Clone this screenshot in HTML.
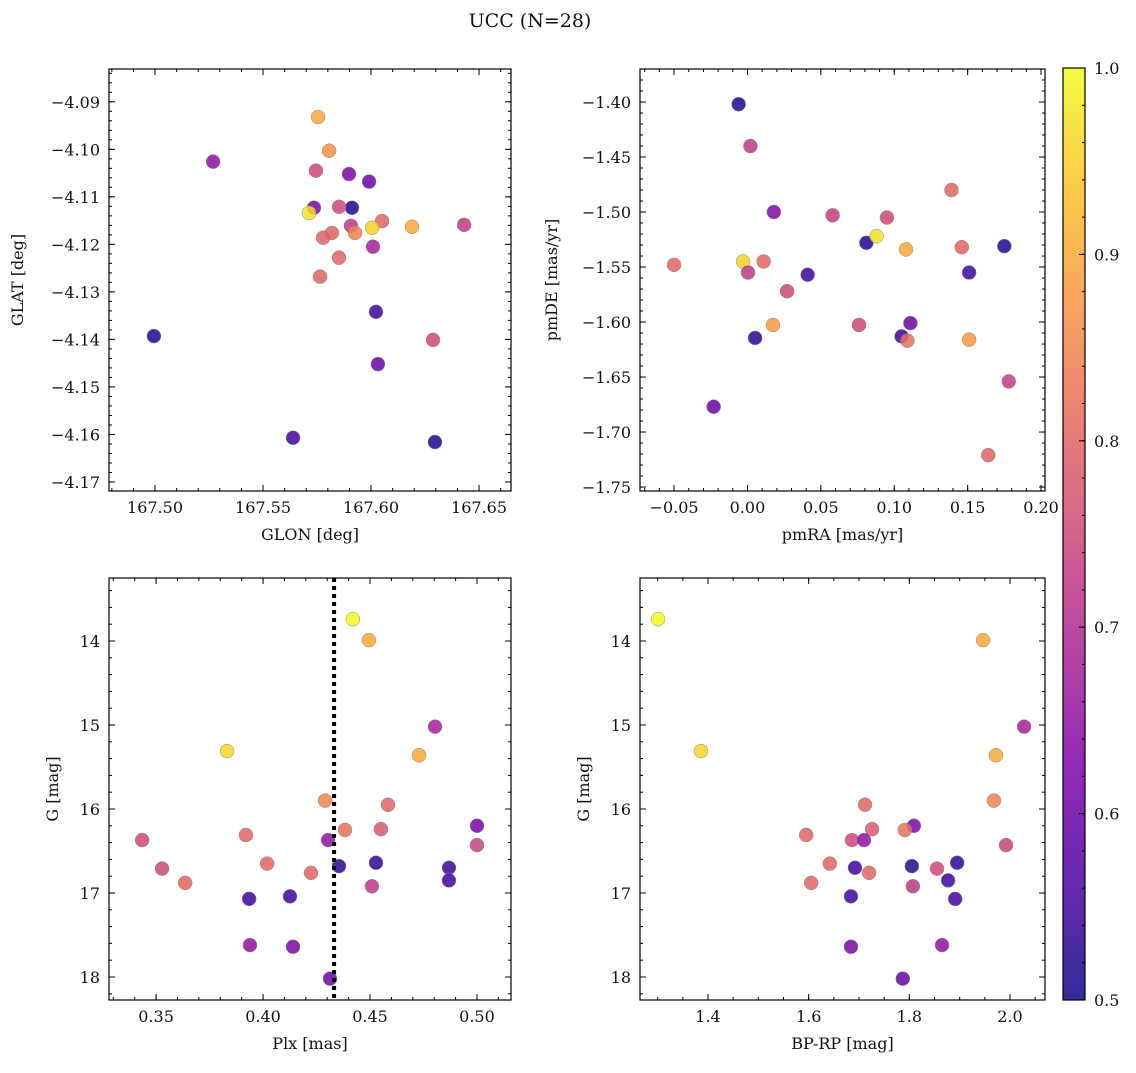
<!DOCTYPE html>
<html><head><meta charset="utf-8"><style>
body{margin:0;background:#fff;}
svg text{font-family:"DejaVu Serif","Liberation Serif",serif;fill:#111;}
</style></head><body>
<svg id="fig" width="1136" height="1068" xmlns="http://www.w3.org/2000/svg">
<text x="530" y="27" font-size="19" text-anchor="middle">UCC (N=28)</text>
</svg>
<script>
// Panel 1: GLON vs GLAT
const glon=[167.5755,167.5269,167.5806,167.5745,167.5898,167.5991,167.5736,167.5912,167.5852,167.5713,167.6051,167.5907,167.5926,167.5819,167.5778,167.6005,167.6190,167.6431,167.6009,167.5852,167.5764,167.6023,167.4995,167.6287,167.6032,167.5639,167.6296];
const glat=[-4.0932,-4.1026,-4.1003,-4.1045,-4.1052,-4.1068,-4.1123,-4.1123,-4.1121,-4.1134,-4.1151,-4.1161,-4.1176,-4.1176,-4.1186,-4.1165,-4.1163,-4.1159,-4.1205,-4.1228,-4.1268,-4.1342,-4.1393,-4.1401,-4.1452,-4.1607,-4.1616];
const prob1=[0.9,0.65,0.87,0.75,0.62,0.6,0.62,0.52,0.75,0.97,0.8,0.72,0.85,0.8,0.8,0.95,0.9,0.73,0.68,0.8,0.8,0.55,0.52,0.75,0.6,0.55,0.52];
// Panel 2: pmRA vs pmDE
const pmra=[-0.006,0.002,0.018,0.058,0.095,0.139,0.146,0.175,0.081,0.088,0.108,-0.05,-0.003,0.011,0.0004,0.041,0.151,0.027,0.0174,0.0052,0.076,0.111,0.105,0.109,0.151,0.178,-0.023,0.164];
const pmde=[-1.402,-1.440,-1.500,-1.503,-1.505,-1.480,-1.532,-1.531,-1.528,-1.522,-1.534,-1.548,-1.545,-1.545,-1.555,-1.557,-1.555,-1.572,-1.6027,-1.6145,-1.6027,-1.601,-1.613,-1.617,-1.616,-1.654,-1.677,-1.721];
const prob2=[0.52,0.72,0.63,0.73,0.75,0.8,0.8,0.52,0.52,0.97,0.9,0.8,0.95,0.8,0.72,0.55,0.55,0.75,0.88,0.53,0.75,0.6,0.55,0.82,0.88,0.73,0.6,0.8];
// Panel 3 & 4: Plx, BP-RP vs G
const plx=[0.442,0.4495,0.3832,0.4804,0.4729,0.429,0.4584,0.50,0.4383,0.4551,0.392,0.3435,0.4304,0.50,0.4019,0.4528,0.4355,0.4869,0.3528,0.4224,0.4869,0.3636,0.4509,0.4126,0.3935,0.3939,0.414,0.4313];
const gmag=[13.74,13.99,15.31,15.02,15.36,15.90,15.95,16.20,16.25,16.24,16.31,16.37,16.37,16.43,16.65,16.64,16.68,16.70,16.71,16.76,16.85,16.88,16.92,17.04,17.07,17.62,17.64,18.02];
const bprp=[1.3007,1.9464,1.386,2.028,1.972,1.968,1.712,1.809,1.791,1.726,1.595,1.686,1.710,1.992,1.642,1.895,1.805,1.692,1.855,1.720,1.877,1.605,1.807,1.684,1.891,1.865,1.684,1.787];
const prob3=[1.0,0.9,0.96,0.68,0.9,0.85,0.8,0.62,0.82,0.78,0.8,0.75,0.65,0.74,0.8,0.53,0.53,0.55,0.75,0.8,0.55,0.8,0.72,0.55,0.55,0.65,0.62,0.6];
const plxLine=0.4332;

const NS="http://www.w3.org/2000/svg";
const svg=document.getElementById('fig');
function mk(tag,attrs,parent){const e=document.createElementNS(NS,tag);for(const k in attrs)e.setAttribute(k,attrs[k]);(parent||svg).appendChild(e);return e;}
const stops=[[13,8,135],[76,2,161],[126,3,168],[169,35,149],[204,71,120],[229,107,93],[248,148,65],[253,195,40],[240,249,33]];
function plasma(t){t=Math.max(0,Math.min(1,t));const f=t*8,i=Math.min(7,Math.floor(f)),r=f-i;const a=stops[i],b=stops[i+1];return `rgb(${a.map((v,k)=>Math.round(v+(b[k]-v)*r)).join(',')})`;}
function pcol(p){return plasma((p-0.5)/0.5);}
const FS=16;
function panel(cfg){
  const {L,T,R,B,x0,x1,y0,y1,inv,xs,ys,ps,xt,yt,xmin,ymin,xfmt,yfmt,xl,yl,name}=cfg;
  const X=v=>L+(v-x0)/(x1-x0)*(R-L);
  const Y=v=>inv? T+(v-y0)/(y1-y0)*(B-T) : B-(v-y0)/(y1-y0)*(B-T);
  const g=mk('g',{});
  
  
  for(let i=0;i<xs.length;i++){
    const c=mk('circle',{cx:X(xs[i]),cy:Y(ys[i]),r:7,fill:pcol(ps[i]),'fill-opacity':0.85,stroke:'#888','stroke-width':0.5},g);
    
    
  }
  if(cfg.vline!==undefined){
    const l=mk('line',{x1:X(cfg.vline),x2:X(cfg.vline),y1:T,y2:B,stroke:'#000','stroke-width':4,'stroke-dasharray':'4,4'},g);
    
    
  }
  const fr=mk('rect',{x:L,y:T,width:R-L,height:B-T,fill:'none',stroke:'#000','stroke-width':1.2},g);
  
  
  const eps=1e-9;
  for(let v=Math.ceil((Math.min(x0,x1))/xmin-eps)*xmin;v<=Math.max(x0,x1)+eps;v+=xmin){const x=X(v);mk('line',{x1:x,x2:x,y1:B,y2:B-3,stroke:'#000'},g);mk('line',{x1:x,x2:x,y1:T,y2:T+3,stroke:'#000'},g);}
  for(let v=Math.ceil((Math.min(y0,y1))/ymin-eps)*ymin;v<=Math.max(y0,y1)+eps;v+=ymin){const y=Y(v);mk('line',{x1:L,x2:L+3,y1:y,y2:y,stroke:'#000'},g);mk('line',{x1:R,x2:R-3,y1:y,y2:y,stroke:'#000'},g);}
  xt.forEach(v=>{const x=X(v);mk('line',{x1:x,x2:x,y1:B,y2:B-6,stroke:'#000'},g);mk('line',{x1:x,x2:x,y1:T,y2:T+6,stroke:'#000'},g);
    const t=mk('text',{x:x,y:B+22,'font-size':FS,'text-anchor':'middle'},g);t.textContent=xfmt(v);
    
    });
  yt.forEach(v=>{const y=Y(v);mk('line',{x1:L,x2:L+6,y1:y,y2:y,stroke:'#000'},g);mk('line',{x1:R,x2:R-6,y1:y,y2:y,stroke:'#000'},g);
    const t=mk('text',{x:L-9,y:y+6,'font-size':FS,'text-anchor':'end'},g);t.textContent=yfmt(v);
    
    });
  const tx=mk('text',{x:(L+R)/2,y:B+49,'font-size':FS,'text-anchor':'middle'},g);tx.textContent=xl;
  
  
  const cy=(T+B)/2,cx=cfg.ylx;
  const ty=mk('text',{x:cx,y:cy,'font-size':FS,'text-anchor':'middle',transform:`rotate(-90 ${cx} ${cy})`},g);ty.textContent=yl;
  
  
}
const fx=d=>v=>{const s=Math.abs(v).toFixed(d);return (v<-1e-9?'\u2212':'')+s;};
const r=(a,b,s)=>{const o=[];for(let v=a;v<=b+1e-9;v+=s)o.push(+v.toFixed(6));return o;};
panel({name:'panel-glon-glat',L:109,T:69,R:511,B:491,x0:167.4787,x1:167.6648,y0:-4.1719,y1:-4.0831,xs:glon,ys:glat,ps:prob1,
 xt:r(167.5,167.65,0.05),yt:r(-4.17,-4.09,0.01),xmin:0.01,ymin:0.002,xfmt:fx(2),yfmt:fx(2),xl:'GLON [deg]',yl:'GLAT [deg]',ylx:23});
panel({name:'panel-pmra-pmde',L:640,T:69,R:1045,B:491,x0:-0.0732,x1:0.2027,y0:-1.7536,y1:-1.370,xs:pmra,ys:pmde,ps:prob2,
 xt:r(-0.05,0.2,0.05),yt:r(-1.75,-1.4,0.05),xmin:0.01,ymin:0.01,xfmt:fx(2),yfmt:fx(2),xl:'pmRA [mas/yr]',yl:'pmDE [mas/yr]',ylx:557});
panel({name:'panel-plx-g',L:109,T:578,R:511,B:1000,x0:0.328,x1:0.5159,y0:13.25,y1:18.274,inv:true,xs:plx,ys:gmag,ps:prob3,vline:plxLine,
 xt:r(0.35,0.5,0.05),yt:r(14,18,1),xmin:0.01,ymin:0.2,xfmt:fx(2),yfmt:v=>String(v),xl:'Plx [mas]',yl:'G [mag]',ylx:58});
panel({name:'panel-bprp-g',L:640,T:578,R:1045,B:1000,x0:1.2649,x1:2.0695,y0:13.25,y1:18.274,inv:true,xs:bprp,ys:gmag,ps:prob3,
 xt:r(1.4,2.0,0.2),yt:r(14,18,1),xmin:0.05,ymin:0.2,xfmt:fx(1),yfmt:v=>String(v),xl:'BP-RP [mag]',yl:'G [mag]',ylx:589});
const cb=mk('g',{});


const defs=mk('defs',{});const lg=mk('linearGradient',{id:'cg',x1:0,y1:1,x2:0,y2:0},defs);
for(let i=0;i<=16;i++){mk('stop',{offset:i/16,'stop-color':plasma(i/16),'stop-opacity':0.85},lg);}
const cL=1063,cR=1085,cT=68,cB=1000;
mk('rect',{x:cL,y:cT,width:cR-cL,height:cB-cT,fill:'url(#cg)',stroke:'#000','stroke-width':1.2},cb);
const cbt=[0.5,0.6,0.7,0.8,0.9,1.0];
for(let v=0.5;v<=1.0001;v+=0.02){const y=cB-(v-0.5)/0.5*(cB-cT);mk('line',{x1:cR,x2:cR-3,y1:y,y2:y,stroke:'#000'},cb);}
cbt.forEach(v=>{const y=cB-(v-0.5)/0.5*(cB-cT);mk('line',{x1:cR,x2:cR-6,y1:y,y2:y,stroke:'#000'},cb);
 const t=mk('text',{x:cR+9,y:y+6,'font-size':FS},cb);t.textContent=v.toFixed(1);
 
 });
</script>
</body></html>
